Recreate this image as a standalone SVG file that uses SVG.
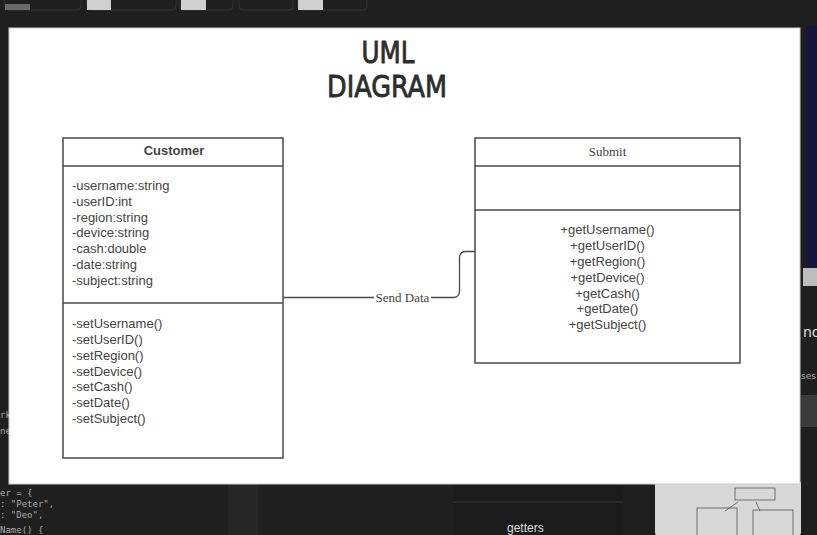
<svg xmlns="http://www.w3.org/2000/svg" width="817" height="535" viewBox="0 0 817 535">
<style>
.box{fill:#fff;stroke:#4a4a4a;stroke-width:1.5}
.div{stroke:#4a4a4a;stroke-width:1.5}
.t{font-family:"Liberation Sans",Arial,sans-serif;font-size:13px;fill:#444}
.s{font-family:"Liberation Serif","Times New Roman",serif;font-size:13px;fill:#444}
.h{font-family:"DejaVu Sans",sans-serif;font-size:31px;fill:#2e2e2e;stroke:#2e2e2e;stroke-width:0.9;stroke-linejoin:round}
.bg{font-family:"DejaVu Sans Mono",monospace;font-size:9px;fill:#aaa}
.conn{fill:none;stroke:#4a4a4a;stroke-width:1.3}
</style>
<g id="background">
<rect x="0" y="0" width="817" height="535" fill="#1f1f1f"/>
<g fill="none" stroke="#333" stroke-width="1">
<rect x="5" y="-6" width="76" height="16" rx="4"/>
<rect x="87" y="-6" width="89" height="16" rx="4"/>
<rect x="180" y="-6" width="53" height="16" rx="4"/>
<rect x="239" y="-6" width="54" height="16" rx="4"/>
<rect x="298" y="-6" width="69" height="16" rx="4"/>
</g>
<rect x="5" y="4" width="25" height="6" fill="#6a6a6a"/>
<rect x="87" y="0" width="24" height="10" fill="#cfcfcf"/>
<rect x="181" y="0" width="25" height="10" fill="#cfcfcf"/>
<rect x="298" y="0" width="25" height="10" fill="#cfcfcf"/>
<rect x="806" y="26" width="11" height="242" fill="#15143a"/>
<rect x="803" y="268" width="14" height="18" fill="#bdbdbd"/>
<rect x="801" y="395" width="16" height="32" fill="#3a3a3a"/>
<text x="803" y="337" font-family="DejaVu Sans,sans-serif" font-size="14" fill="#ddd">no</text>
<text x="801" y="379" font-family="DejaVu Sans,sans-serif" font-size="9" fill="#aaa">ses</text>
<text x="0" y="418" class="bg" font-size="11">rk</text>
<text x="0" y="434" class="bg" font-size="11">ne</text>
<text x="0" y="496" class="bg">er = {</text>
<text x="0" y="507" class="bg">: "Peter",</text>
<text x="0" y="518" class="bg">: "Deo",</text>
<text x="0" y="533" class="bg">Name() {</text>
<rect x="228" y="484" width="30" height="51" fill="#262626"/>
<rect x="453" y="484" width="170" height="51" fill="#1b1b1b"/>
<line x1="453" y1="502" x2="623" y2="502" stroke="#3a3a3a"/>
<text x="507" y="532" font-family="Liberation Sans,sans-serif" font-size="12" fill="#ddd">getters</text>
<rect x="655" y="478" width="146" height="60" rx="6" fill="#d8d8d8"/>
<g stroke="#555" fill="none" stroke-width="0.8">
<rect x="735" y="488" width="40" height="12"/>
<rect x="697" y="508" width="40" height="28"/>
<rect x="753" y="510" width="40" height="26"/>
<line x1="738" y1="502" x2="725" y2="511"/>
<line x1="756" y1="502" x2="760" y2="511"/>
</g>
</g>
<rect id="panel" x="9" y="28" width="791" height="456" fill="#fff" stroke="#cfcfcf" stroke-width="1"/>
<g id="title">
<text class="h" x="388" y="63" text-anchor="middle" textLength="53" lengthAdjust="spacingAndGlyphs">UML</text>
<text class="h" x="387" y="97" text-anchor="middle" textLength="120" lengthAdjust="spacingAndGlyphs">DIAGRAM</text>
</g>
<g id="connectors">
<path class="conn" d="M283 297.5 H374 M431 297.5 H453 Q459.5 297.5 459.5 291 V258 Q459.5 251.5 466 251.5 H475"/>
<text class="s" x="402.5" y="301.5" text-anchor="middle">Send Data</text>
</g>
<g id="customer">
<rect class="box" x="63" y="138" width="220" height="320"/>
<line class="div" x1="63" y1="166" x2="283" y2="166"/>
<line class="div" x1="63" y1="303" x2="283" y2="303"/>
<text class="t" x="174" y="155" text-anchor="middle" font-weight="bold" fill="#333">Customer</text>
<text class="t" x="72" y="190">-username:string</text>
<text class="t" x="72" y="205.5">-userID:int</text>
<text class="t" x="72" y="221.5">-region:string</text>
<text class="t" x="72" y="237">-device:string</text>
<text class="t" x="72" y="252.5">-cash:double</text>
<text class="t" x="72" y="268.5">-date:string</text>
<text class="t" x="72" y="284.5">-subject:string</text>
<text class="t" x="72" y="328">-setUsername()</text>
<text class="t" x="72" y="344">-setUserID()</text>
<text class="t" x="72" y="359.5">-setRegion()</text>
<text class="t" x="72" y="375.5">-setDevice()</text>
<text class="t" x="72" y="391">-setCash()</text>
<text class="t" x="72" y="407">-setDate()</text>
<text class="t" x="72" y="423">-setSubject()</text>
</g>
<g id="submit">
<rect class="box" x="475" y="138" width="265" height="225"/>
<line class="div" x1="475" y1="166" x2="740" y2="166"/>
<line class="div" x1="475" y1="210" x2="740" y2="210"/>
<text class="s" x="607.5" y="155.5" text-anchor="middle">Submit</text>
<text class="t" x="607.5" y="234" text-anchor="middle">+getUsername()</text>
<text class="t" x="607.5" y="250" text-anchor="middle">+getUserID()</text>
<text class="t" x="607.5" y="265.5" text-anchor="middle">+getRegion()</text>
<text class="t" x="607.5" y="281.5" text-anchor="middle">+getDevice()</text>
<text class="t" x="607.5" y="297.5" text-anchor="middle">+getCash()</text>
<text class="t" x="607.5" y="313" text-anchor="middle">+getDate()</text>
<text class="t" x="607.5" y="329" text-anchor="middle">+getSubject()</text>
</g>
</svg>
